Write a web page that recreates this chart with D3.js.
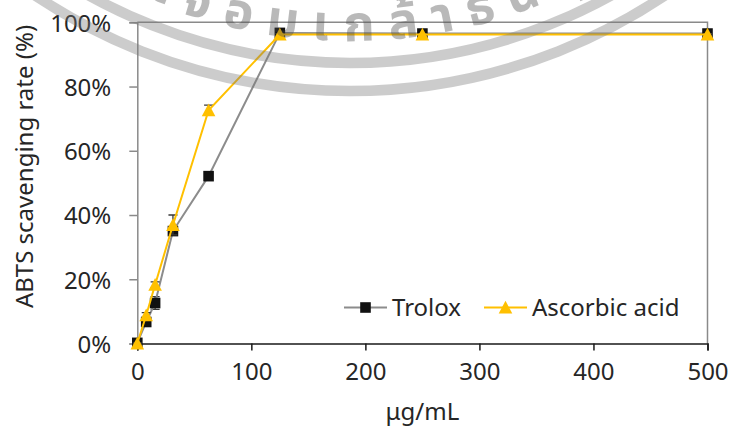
<!DOCTYPE html>
<html>
<head>
<meta charset="utf-8">
<script src="https://cdn.jsdelivr.net/npm/d3@7/dist/d3.min.js"></script>
<style>
  html, body { margin: 0; padding: 0; background: #fff; }
  svg { display: block; font-family: "Noto Sans", sans-serif; }
</style>
</head>
<body>
<svg id="chart" width="730" height="432"></svg>
<script>
// Concentrations tested (µg/mL)
const conc = [0, 7.8125, 15.625, 31.25, 62.5, 125, 250, 500];
// ABTS radical scavenging (%) – mean and SD
const trolox = [0.2, 6.7, 12.6, 35.0, 52.1, 96.7, 96.5, 96.5];
const troloxSD = [0.3, 0.8, 2.0, 1.0, 0.8, 0.5, 0.3, 0.3];
const ascorbic = [0, 8.8, 18.3, 36.9, 72.6, 96.2, 96.2, 96.2];
const ascorbicSD = [0.2, 0.8, 0.9, 3.1, 1.6, 0.3, 0.3, 0.3];
const seriesNames = ["Trolox", "Ascorbic acid"];
const xTicks = [0, 100, 200, 300, 400, 500];
const yTicks = [0, 20, 40, 60, 80, 100];
const xTitle = "μg/mL";
const yTitle = "ABTS scavenging rate (%)";
const sealText = "พระจอมเกล้าธนบุรี";

const svg = d3.select("#chart");
const plotL = 137.3, plotR = 707.5, plotT = 22.3, plotB = 343.5;

const x = d3.scaleLinear().domain([0, 500]).range([plotL, plotR]);
const y = d3.scaleLinear().domain([0, 100]).range([plotB, plotT]);

const FONT = 24;
const textColor = "#262626";

// plot frame (top and right edges)
svg.append("path")
  .attr("d", `M${plotL},${plotT}H${plotR}V${plotB}`)
  .attr("fill", "none").attr("stroke", "#8a8a8a").attr("stroke-width", 1.5);

// y axis
const yAxis = svg.append("g").attr("transform", `translate(${plotL},0)`)
  .call(d3.axisLeft(y).tickValues(yTicks).tickSize(8).tickPadding(18)
    .tickFormat(d => d + "%"));
yAxis.select(".domain").attr("stroke", "#8a8a8a").attr("stroke-width", 1.5);
yAxis.selectAll(".tick line").attr("stroke", "#8a8a8a").attr("stroke-width", 1.5);
yAxis.selectAll(".tick text").attr("font-size", FONT).attr("fill", textColor)
  .attr("font-family", "Noto Sans").attr("dy", "0.37em");

// x axis
const xAxis = svg.append("g").attr("transform", `translate(0,${plotB})`)
  .call(d3.axisBottom(x).tickValues(xTicks).tickSize(7).tickPadding(12));
xAxis.select(".domain").attr("stroke", "#1a1a1a").attr("stroke-width", 1.5);
xAxis.selectAll(".tick line").attr("stroke", "#1a1a1a").attr("stroke-width", 1.5);
xAxis.selectAll(".tick text").attr("font-size", FONT).attr("fill", textColor)
  .attr("font-family", "Noto Sans").attr("dy", "0.74em");

// axis titles
svg.append("text").attr("x", (plotL + plotR) / 2).attr("y", 420)
  .attr("text-anchor", "middle").attr("font-size", FONT).attr("fill", textColor)
  .text(xTitle);
svg.append("text")
  .attr("transform", `translate(33,166.5) rotate(-90)`)
  .attr("text-anchor", "middle").attr("font-size", FONT).attr("fill", textColor)
  .text(yTitle);

const styles = [
  { name: seriesNames[0], values: trolox, sd: troloxSD, line: "#8c8c8c", fill: "#111", marker: "square" },
  { name: seriesNames[1], values: ascorbic, sd: ascorbicSD, line: "#ffc000", fill: "#ffc000", marker: "triangle" }
];

function markerPath(kind) {
  if (kind === "square") return "M-5.3,-5.3h10.6v10.6h-10.6Z";
  return "M0,-6.8L6.8,6L-6.8,6Z";
}

const line = d3.line().x(d => x(d[0])).y(d => y(d[1]));

styles.forEach(s => {
  const pts = conc.map((c, i) => [c, s.values[i], s.sd[i]]);
  const g = svg.append("g");
  // error bars
  g.selectAll("path.err").data(pts).join("path")
    .attr("d", d => {
      const cx = x(d[0]), y1 = y(d[1] + d[2]), y2 = y(d[1] - d[2]);
      return `M${cx},${y1}V${y2}M${cx - 4.5},${y1}H${cx + 4.5}M${cx - 4.5},${y2}H${cx + 4.5}`;
    })
    .attr("stroke", "#3a3a3a").attr("stroke-width", 1.3).attr("fill", "none");
  g.append("path").datum(pts).attr("d", line)
    .attr("fill", "none").attr("stroke", s.line).attr("stroke-width", 2);
  g.selectAll("path.mk").data(pts).join("path")
    .attr("transform", d => `translate(${x(d[0])},${y(d[1])})`)
    .attr("d", markerPath(s.marker)).attr("fill", s.fill);
});

// legend
const legendY = 307.5;
const legendItems = [
  { s: styles[0], x0: 344, x1: 387, tx: 392 },
  { s: styles[1], x0: 484, x1: 527, tx: 532 }
];
legendItems.forEach(it => {
  svg.append("line").attr("x1", it.x0).attr("x2", it.x1).attr("y1", legendY).attr("y2", legendY)
    .attr("stroke", it.s.line).attr("stroke-width", 2);
  svg.append("path").attr("transform", `translate(${(it.x0 + it.x1) / 2},${legendY})`)
    .attr("d", markerPath(it.s.marker)).attr("fill", it.s.fill);
  svg.append("text").attr("x", it.tx).attr("y", legendY + 8.8)
    .attr("font-size", FONT).attr("fill", textColor).text(it.s.name);
});

// seal rings and lettering laid over the chart
const cx0 = 350, cy0 = -475;
const seal = svg.append("g").attr("opacity", 0.38).attr("pointer-events", "none");
[538, 566].forEach(r => {
  seal.append("circle").attr("cx", cx0).attr("cy", cy0).attr("r", r)
    .attr("fill", "none").attr("stroke", "#7a7a7a").attr("stroke-width", 10.5);
});
const rText = 516;
seal.append("path").attr("id", "sealArc")
  .attr("d", `M${cx0 - rText},${cy0} A${rText},${rText} 0 0 0 ${cx0 + rText},${cy0}`)
  .attr("fill", "none");
seal.append("text")
  .attr("font-family", "'Noto Sans Thai', 'Noto Sans', sans-serif")
  .attr("font-size", 50).attr("font-weight", "bold").attr("letter-spacing", 15)
  .attr("fill", "#4a4a4a")
  .append("textPath").attr("href", "#sealArc").attr("startOffset", "31.6%")
  .text(sealText);
</script>
</body>
</html>
